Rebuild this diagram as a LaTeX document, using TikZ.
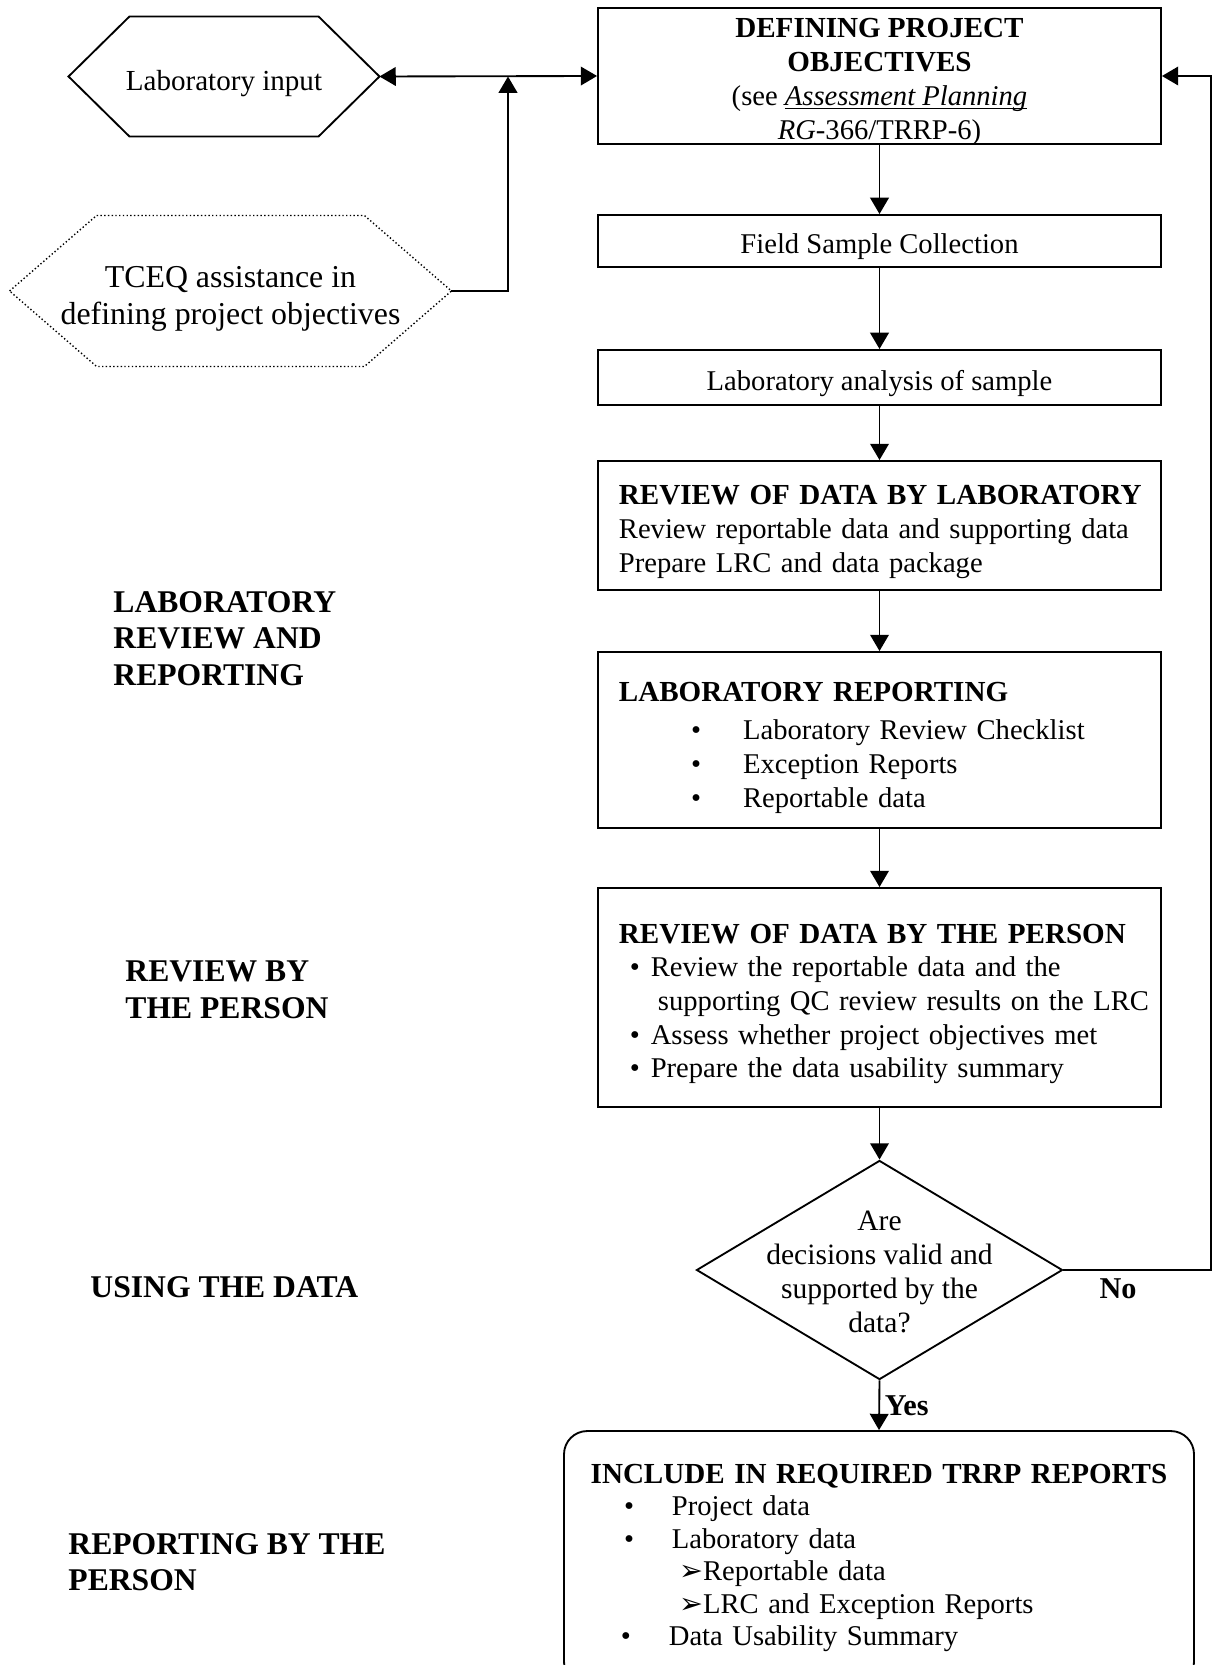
\documentclass[tikz,border=0pt]{standalone}
\usepackage{fontspec}
\setmainfont{Liberation Serif}
\newfontfamily\arrowfont{DejaVu Sans}
\usetikzlibrary{shapes.geometric, arrows.meta}

% bullet item: indent to bullet, bullet to text, text
\newcommand{\bul}[3]{\hspace*{#1}\makebox[#2][l]{\textbullet}\mbox{#3}}
\newcommand{\subitm}[2]{\hspace*{#1}\mbox{{\arrowfont\fontsize{12.3}{14}\selectfont ➢}#2}}
\newcommand{\ttl}[1]{\mbox{\fontsize{12.5}{14.5}\selectfont\bfseries #1}}

\tikzset{
	topstrut/.style={execute at begin node={\rule{0pt}{#1}}},
	stepbox/.style={draw, line width=0.8pt, minimum width=242.1pt, inner xsep=9pt, inner ysep=2pt, align=center},
	leftbox/.style={stepbox, text width=224.1pt, align=left},
	decision/.style={diamond, draw, line width=0.8pt, shape aspect=1.5, minimum width=157.4pt, minimum height=94.2pt, inner sep=0pt,
		font=\fontsize{12.7}{14.7}\selectfont},
	phase/.style={font=\fontsize{13.6}{15.7}\selectfont\bfseries, align=left, inner sep=0pt, anchor=west},
	answer/.style={font=\fontsize{13}{15}\selectfont\bfseries},
	flow/.style={line width=0.8pt, -{Triangle[length=7pt,width=8pt]}},
}

\begin{document}
\begin{tikzpicture}[x=0.43pt, y=-0.43pt, font=\fontsize{12.3}{14.5}\selectfont]

\useasboundingbox (0,0) rectangle (1216,1665);
\clip (0,0) rectangle (1216,1665);

%---------MAIN COLUMN-----------%
\node[stepbox, minimum height=58.5pt] (dpo) at (879.5,76)
	{\raisebox{-5.5pt}[0pt][0pt]{\begin{tabular}{@{}c@{}}\ttl{DEFINING PROJECT}\\\ttl{OBJECTIVES}\\
	 (see \underline{\smash{\textit{Assessment Planning}}}\\\textit{RG}-366/TRRP-6)\end{tabular}}};
\node[stepbox, topstrut=13.8pt, minimum height=22.4pt] (field) at (879.5,241) {Field Sample Collection};
\node[stepbox, topstrut=13.8pt, minimum height=23.7pt] (analysis) at (879.5,377.5) {Laboratory analysis of sample};

\node[leftbox, topstrut=13.8pt, minimum height=55.5pt] (labreview) at (879.5,525.5)
	{\ttl{REVIEW OF DATA BY LABORATORY}\\
	 \mbox{Review reportable data and supporting data}\\
	 \mbox{Prepare LRC and data package}};

\node[leftbox, topstrut=15pt, minimum height=75.7pt] (labreport) at (879.5,740)
	{\ttl{LABORATORY REPORTING}\\[2pt]
	 \bul{31pt}{22.4pt}{Laboratory Review Checklist}\\
	 \bul{31pt}{22.4pt}{Exception Reports}\\
	 \bul{31pt}{22.4pt}{Reportable data}};

\node[leftbox, topstrut=13.8pt, minimum height=94.2pt] (personreview) at (879.5,997.5)
	{\ttl{REVIEW OF DATA BY THE PERSON}\\
	 \bul{4.7pt}{9pt}{Review the reportable data and the}\\
	 \hspace*{16.8pt}\mbox{supporting QC review results on the LRC}\\
	 \bul{4.7pt}{9pt}{Assess whether project objectives met}\\
	 \bul{4.7pt}{9pt}{Prepare the data usability summary}};

\node[decision] (valid) at (879.5,1270)
	{\raisebox{-5pt}[0pt][0pt]{\begin{tabular}{@{}c@{}}Are\\decisions valid and\\supported by the\\data?\end{tabular}}};

\node[draw, line width=0.8pt, rounded corners=10pt, text width=252.9pt, inner xsep=9pt, minimum height=109.2pt, align=left,
	font=\fontsize{12.3}{14}\selectfont] (include) at (879,1558)
	{\makebox[252.9pt]{\ttl{INCLUDE IN REQUIRED TRRP REPORTS}}\\
	 \bul{16.8pt}{20.6pt}{Project data}\\
	 \bul{16.8pt}{20.6pt}{Laboratory data}\\
	 \subitm{40.5pt}{Reportable data}\\
	 \subitm{40.5pt}{LRC and Exception Reports}\\
	 \bul{15.5pt}{20.6pt}{Data Usability Summary}};

%---------INPUT HEXAGONS-----------%
\node[minimum width=133.3pt, minimum height=51.2pt, inner sep=0pt, font=\fontsize{12.5}{14.5}\selectfont,
	topstrut=14.5pt] (labin) at (224,76.5) {Laboratory input};
\draw[line width=0.8pt] (labin.west) -- ([xshift=26.2pt]labin.north west) -- ([xshift=-26.2pt]labin.north east)
	-- (labin.east) -- ([xshift=-26.2pt]labin.south east) -- ([xshift=26.2pt]labin.south west) -- cycle;

\node[minimum width=189.6pt, minimum height=64.5pt, inner sep=0pt, align=center, font=\fontsize{13.7}{15.8}\selectfont]
	(tceq) at (230.5,291) {\rule{0pt}{16pt}TCEQ assistance in\\defining project objectives};
\draw[line width=0.6pt, densely dotted] (tceq.west) -- ([xshift=37.4pt]tceq.north west) -- ([xshift=-37.4pt]tceq.north east)
	-- (tceq.east) -- ([xshift=-37.4pt]tceq.south east) -- ([xshift=37.4pt]tceq.south west) -- cycle;

%---------PHASES-----------%
\node[phase] (phlab) at (113,638.5) {LABORATORY\\REVIEW AND\\REPORTING};
\node[phase] (phperson) at (125,990) {REVIEW BY\\THE PERSON};
\node[phase] (phuse) at (90,1287) {USING THE DATA};
\node[phase] (phreport) at (68,1562) {REPORTING BY THE\\PERSON};

%---------LINKS-----------%
\coordinate (join) at (508,76.5);
\coordinate (back) at (1211,1270);

\draw[flow, {Triangle[length=7pt,width=8pt]}-{Triangle[length=7pt,width=8pt]}] (labin.east) -- (dpo.west);
\draw[flow] (tceq.east) -| (join);

\draw[flow] (dpo) -- (field);
\draw[flow] (field) -- (analysis);
\draw[flow] (analysis) -- (labreview);
\draw[flow] (labreview) -- (labreport);
\draw[flow] (labreport) -- (personreview);
\draw[flow] (personreview) -- (valid);
\draw[flow] (valid.south) -- node[answer, right, inner sep=2pt] {Yes} (include.north);
\draw[flow] (valid.east) -- node[answer, below, pos=0.37] {No} (back) |- (dpo.east);

\end{tikzpicture}
\end{document}
